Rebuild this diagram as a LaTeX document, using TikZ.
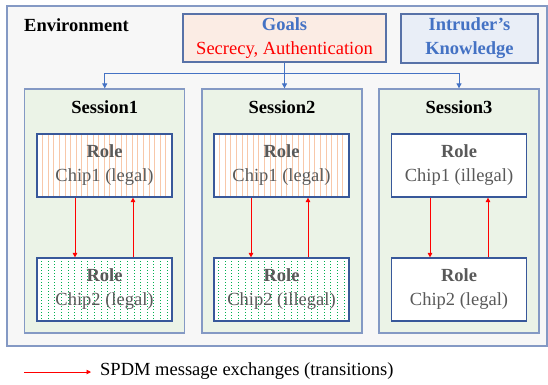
\documentclass[tikz,border=0pt]{standalone}
\usepackage{fontspec}
\setmainfont{Liberation Serif}
\usetikzlibrary{arrows.meta}
\definecolor{envfill}{RGB}{247,247,247}
\definecolor{envline}{RGB}{132,153,196}
\definecolor{goalfill}{RGB}{251,236,228}
\definecolor{intrfill}{RGB}{233,238,247}
\definecolor{boxline}{RGB}{88,114,168}
\definecolor{sessfill}{RGB}{235,243,231}
\definecolor{roleline}{RGB}{56,88,154}
\definecolor{titleblue}{RGB}{68,114,196}
\definecolor{rolegray}{RGB}{89,89,89}
\definecolor{hatchorange}{RGB}{248,200,170}
\definecolor{dotgreen}{RGB}{0,176,80}
\begin{document}
\begin{tikzpicture}
[x=1pt,y=-1pt,font=\fontsize{18.5}{24}\selectfont,
  envdecorate/.style={draw=envline,fill=envfill,line width=1.3pt,minimum width=540pt,minimum height=340pt},%
  topdecorate/.style={draw=boxline,line width=1.2pt,inner sep=0pt,align=center,font=\fontsize{18.5}{24}\selectfont\bfseries,text=titleblue},%
  sessdecorate/.style={draw=envline,fill=sessfill,line width=1.3pt,minimum width=160pt,minimum height=244pt},%
  roledecorate/.style={draw=roleline,fill=white,line width=1.2pt,minimum width=135pt,minimum height=63pt,inner sep=0pt,align=center,text=rolegray},%
  legalhatch/.style={path picture={\foreach \k in {1,...,24}
      \draw[hatchorange,line width=0.9pt] ([xshift=\k*5.6pt]path picture bounding box.north west) -- ([xshift=\k*5.6pt]path picture bounding box.south west);}},%
  dothatch/.style={path picture={\foreach \k in {1,...,20}
      \draw[dotgreen,line width=0.9pt,dash pattern=on 1pt off 2pt] ([xshift=\k*6.6pt-2pt]path picture bounding box.north west) -- ([xshift=\k*6.6pt-2pt]path picture bounding box.south west);}},%
  treedecorate/.style={draw=titleblue,line width=0.9pt},%
  msgdecorate/.style={draw=red,line width=0.9pt,-{Triangle[length=4.5pt,width=4.5pt]}}]
\useasboundingbox (0,0) rectangle (548,384);
% environment and the boxes on top
\node (env) at (277,176) [envdecorate] {};
\node (envtitle) at (24,25) [anchor=west,inner sep=0pt,font=\fontsize{18.5}{24}\selectfont\bfseries] {Environment};
\node (goals) at (284.5,38) [topdecorate,fill=goalfill,minimum width=203pt,minimum height=48pt] {Goals\\\mdseries\color{red}Secrecy, Authentication};
\node (intruder) at (469.5,38.5) [topdecorate,fill=intrfill,minimum width=137pt,minimum height=49pt] {Intruder’s\\Knowledge};
% sessions
\node (s1) at (104.75,211) [sessdecorate] {};
\node (s2) at (282,211) [sessdecorate] {};
\node (s3) at (459,211) [sessdecorate] {};
\node (s1title) at ([yshift=-19pt]s1.north) [font=\fontsize{18.5}{24}\selectfont\bfseries] {Session1};
\node (s2title) at ([yshift=-19pt]s2.north) [font=\fontsize{18.5}{24}\selectfont\bfseries] {Session2};
\node (s3title) at ([yshift=-19pt]s3.north) [font=\fontsize{18.5}{24}\selectfont\bfseries] {Session3};
% roles inside the sessions
\node (r11) at (104.5,165.5) [roledecorate,legalhatch] {\textbf{Role}\\Chip1 (legal)};
\node (r12) at (104.5,289.5) [roledecorate,dothatch] {\textbf{Role}\\Chip2 (legal)};
\node (r21) at (281.5,165.5) [roledecorate,legalhatch] {\textbf{Role}\\Chip1 (legal)};
\node (r22) at (281.5,289.5) [roledecorate,dothatch] {\textbf{Role}\\Chip2 (illegal)};
\node (r31) at (459,165.5) [roledecorate] {\textbf{Role}\\Chip1 (illegal)};
\node (r32) at (459,289.5) [roledecorate] {\textbf{Role}\\Chip2 (legal)};
% goals fan out to every session
\draw[treedecorate] (goals.south) -- ++(0,11) coordinate (fork);
\draw[treedecorate,-{Triangle[length=5pt,width=5pt]}] (fork) -| (s1.north);
\draw[treedecorate,-{Triangle[length=5pt,width=5pt]}] (fork) -- (fork |- s2.north);
\draw[treedecorate,-{Triangle[length=5pt,width=5pt]}] (fork) -| (s3.north);
% message exchanges
\draw[msgdecorate] ([xshift=-29.5pt]r11.south) -- ([xshift=-29.5pt]r12.north);
\draw[msgdecorate] ([xshift=28.5pt]r12.north) -- ([xshift=28.5pt]r11.south);
\draw[msgdecorate] ([xshift=-30.5pt]r21.south) -- ([xshift=-30.5pt]r22.north);
\draw[msgdecorate] ([xshift=26.5pt]r22.north) -- ([xshift=26.5pt]r21.south);
\draw[msgdecorate] ([xshift=-29pt]r31.south) -- ([xshift=-29pt]r32.north);
\draw[msgdecorate] ([xshift=29pt]r32.north) -- ([xshift=29pt]r31.south);
% legend
\coordinate (keystart) at (24,372);
\node (key) at (100,371) [anchor=west,inner sep=0pt] {SPDM message exchanges (transitions)};
\draw[msgdecorate] (keystart) -- ([xshift=-9pt]key.west |- keystart);
\end{tikzpicture}
\end{document}
